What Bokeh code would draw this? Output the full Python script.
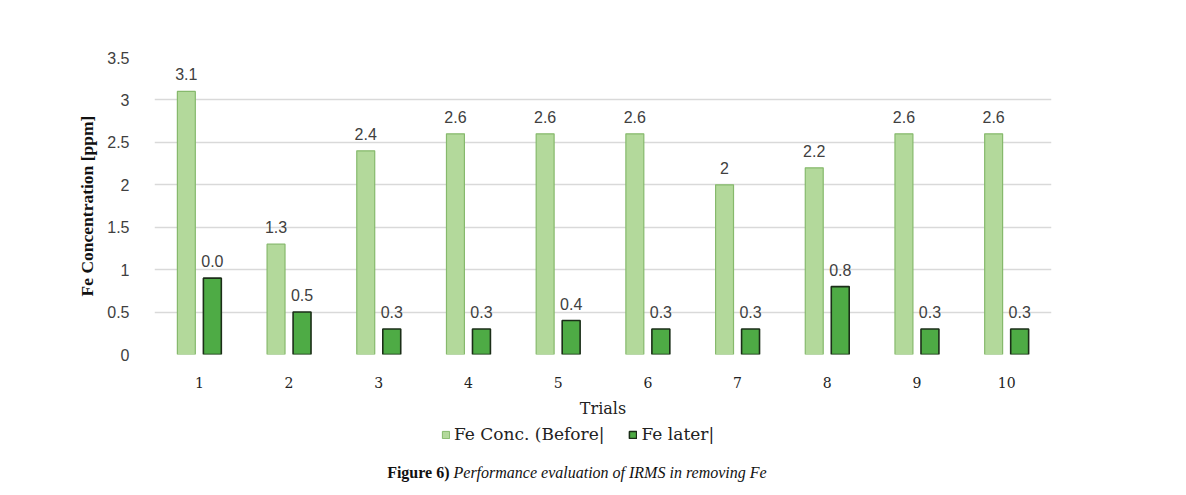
from bokeh.plotting import figure
from bokeh.layouts import column
from bokeh.models import (ColumnDataSource, FactorRange, Range1d, FixedTicker, NumeralTickFormatter,
                          Label, Legend, LegendItem)
from bokeh.transform import dodge
from bokeh.embed import file_html
from bokeh.resources import INLINE
from bokeh.core.properties import value

trials = ["1", "2", "3", "4", "5", "6", "7", "8", "9", "10"]
before = [3.1, 1.3, 2.4, 2.6, 2.6, 2.6, 2.0, 2.2, 2.6, 2.6]
before_labels = ["3.1", "1.3", "2.4", "2.6", "2.6", "2.6", "2", "2.2", "2.6", "2.6"]
after = [0.9, 0.5, 0.3, 0.3, 0.4, 0.3, 0.3, 0.8, 0.3, 0.3]
after_labels = ["0.0", "0.5", "0.3", "0.3", "0.4", "0.3", "0.3", "0.8", "0.3", "0.3"]
y_ticks = [0, 0.5, 1, 1.5, 2, 2.5, 3, 3.5]
series_names = ["Fe Conc. (Before|", "Fe later|"]
caption_bold = "Figure 6)"
caption_italic = "Performance evaluation of IRMS in removing Fe"

light_fill, light_line = "#b3d99b", "#86b96c"
dark_fill, dark_line = "#4eab45", "#1b2e18"
SERIF = "DejaVu Serif"

src = ColumnDataSource(dict(trial=trials, before=before, bl=before_labels, after=after, al=after_labels))

p = figure(width=1186, height=420, x_range=FactorRange(*trials), y_range=Range1d(0, 3.5),
           output_backend="svg", toolbar_location=None,
           min_border_left=154, min_border_right=135, min_border_top=57, min_border_bottom=62)
p.outline_line_color = None
p.background_fill_color = "white"
p.border_fill_color = "white"

r1 = p.vbar(x=dodge("trial", -0.145, range=p.x_range), top="before", width=0.2, source=src,
            fill_color=light_fill, line_color=light_line, line_width=1.2)
r2 = p.vbar(x=dodge("trial", 0.145, range=p.x_range), top="after", width=0.2, source=src,
            fill_color=dark_fill, line_color=dark_line, line_width=1.6)

lab_style = dict(text_font=value("Liberation Sans"), text_font_size="16px", text_color="#404040",
                 text_align="center", text_baseline="bottom", y_offset=-11)
p.text(x=dodge("trial", -0.145, range=p.x_range), y="before", text="bl", source=src, **lab_style)
p.text(x=dodge("trial", 0.145, range=p.x_range), y="after", text="al", source=src, **lab_style)

p.yaxis.ticker = FixedTicker(ticks=y_ticks)
p.yaxis.formatter = NumeralTickFormatter(format="0.[0]")
p.yaxis.axis_line_color = None
p.yaxis.major_tick_line_color = None
p.yaxis.minor_tick_line_color = None
p.yaxis.major_label_standoff = 19
p.yaxis.major_label_text_font = "Liberation Sans"
p.yaxis.major_label_text_font_size = "16px"
p.yaxis.major_label_text_color = "#404040"
p.yaxis.axis_label = "Fe Concentration [ppm]"
p.yaxis.axis_label_text_font = "Liberation Serif"
p.yaxis.axis_label_text_font_style = "bold"
p.yaxis.axis_label_text_font_size = "17.5px"
p.yaxis.axis_label_text_color = "#111111"
p.yaxis.axis_label_standoff = 7

p.xaxis.axis_line_color = None
p.xaxis.major_tick_line_color = None
p.xaxis.minor_tick_line_color = None
p.xaxis.major_label_standoff = 16
p.xaxis.major_label_text_font = SERIF
p.xaxis.major_label_text_font_size = "14px"
p.xaxis.major_label_text_color = "#222222"
p.xaxis.axis_label = "Trials"
p.xaxis.axis_label_text_font = SERIF
p.xaxis.axis_label_text_font_style = "normal"
p.xaxis.axis_label_text_font_size = "16px"
p.xaxis.axis_label_text_color = "#222222"
p.xaxis.axis_label_standoff = 8

p.xgrid.grid_line_color = None
p.ygrid.grid_line_color = "#d9d9d9"
p.ygrid.grid_line_width = 1.5

# Lower strip: legend and caption (frame aligned with the chart frame; x in page pixels)
f2 = figure(width=1186, height=75, x_range=Range1d(154, 1051), y_range=Range1d(20, 95),
            output_backend="svg", toolbar_location=None,
            x_axis_location=None, y_axis_location=None,
            min_border_left=154, min_border_right=135, min_border_top=0, min_border_bottom=0)
f2.outline_line_color = None
f2.xgrid.grid_line_color = None
f2.ygrid.grid_line_color = None
f2.background_fill_color = "white"
f2.border_fill_color = "white"

# legend proxies: same series, hidden in this strip (only their legend swatches show)
d1 = f2.vbar(x="before", top="before", width=0.1, source=src, visible=False,
             fill_color=light_fill, line_color=light_line, line_width=1)
d2 = f2.vbar(x="after", top="after", width=0.1, source=src, visible=False,
             fill_color=dark_fill, line_color=dark_line, line_width=1.5)

legend = Legend(items=[LegendItem(label=series_names[0], renderers=[d1]),
                       LegendItem(label=series_names[1], renderers=[d2])],
                orientation="horizontal", location=(287, 51),
                label_text_font=SERIF, label_text_font_size="17px", label_text_color="#222222",
                glyph_width=9, glyph_height=9, label_standoff=4, spacing=24, padding=0, margin=0,
                border_line_color=None, background_fill_alpha=0, label_height=17)
f2.add_layout(legend, "center")

f2.add_layout(Label(x=449, y=43, text=caption_bold,
                    text_font="Liberation Serif", text_font_style="bold", text_font_size="16px",
                    text_align="right", text_baseline="middle", text_color="#111111"))
f2.add_layout(Label(x=453, y=43, text=caption_italic,
                    text_font="Liberation Serif", text_font_style="italic", text_font_size="16px",
                    text_align="left", text_baseline="middle", text_color="#111111"))

layout = column(p, f2, spacing=0)
open("out.html", "w").write(file_html(layout, INLINE))
